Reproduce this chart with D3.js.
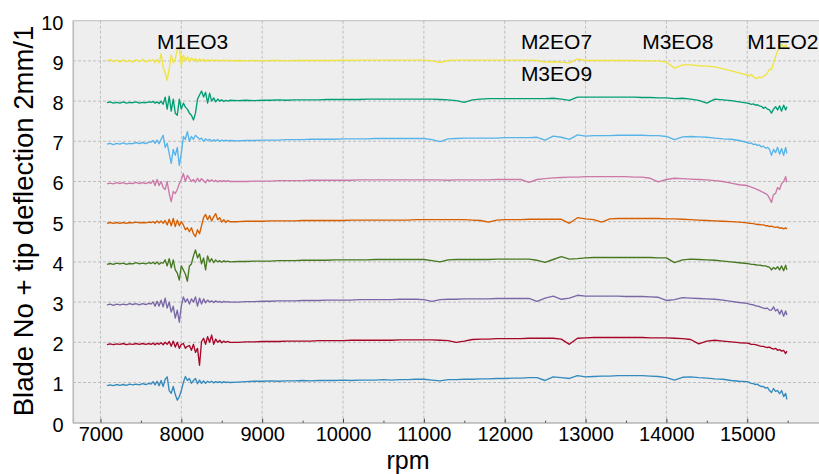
<!DOCTYPE html>
<html lang="en">

<head>
    <meta charset="UTF-8">
    <title>Blade tip deflection</title>
    <script src="https://d3js.org/d3.v7.min.js"></script>
    <style>
        body { margin: 0; background: #fff; }
        text { font-family: "Liberation Sans", Arial, sans-serif; }
    </style>
</head>

<body>
    <script>
        const width = 819;
        const height = 474;

        // rpm samples (denser where the signal is noisy)
        const rpm = [
            7080, 7120, 7160, 7200, 7240, 7280, 7320, 7360, 7400, 7440, 7480, 7520, 7560, 7600,
            7625, 7650, 7675, 7700, 7725, 7750, 7775, 7800, 7825, 7850,
            7875, 7900, 7925, 7950, 7975, 8000, 8025, 8050, 8075, 8100,
            8125, 8150, 8175, 8200, 8225, 8250, 8275, 8300, 8325, 8350,
            8375, 8400, 8425, 8450, 8475, 8500, 8525, 8550, 8575, 8600,
            8700, 8800, 8900, 9000, 9100, 9200, 9300, 9400, 9500, 9600,
            9700, 9800, 9900, 10000, 10100, 10200, 10300, 10400, 10500, 10600,
            10700, 10800, 10900, 11000, 11100, 11200, 11300, 11400, 11500, 11600,
            11700, 11800, 11900, 12000, 12100, 12200, 12300, 12400, 12500, 12600,
            12700, 12800, 12900, 13000, 13100, 13200, 13300, 13400, 13500, 13600,
            13700, 13800, 13900, 14000, 14100, 14200, 14300, 14400, 14500, 14600,
            14700, 14800, 14900,
            15000, 15025, 15050, 15075, 15100, 15125, 15150, 15175, 15200, 15225,
            15250, 15275, 15300, 15325, 15350, 15375, 15400, 15425, 15450, 15475, 15490
        ];

        // tip deflection of each blade, in units of 2 mm (offset by blade number when drawn)
        const blade1 = [
            -0.08, -0.06, -0.08, -0.05, -0.07, -0.05, -0.07, -0.04, -0.06, -0.04, -0.06, -0.03, -0.05, -0.02,
            -0.04, 0.02, -0.06, 0.03, -0.08, 0.05, -0.1, 0.08, 0.14, -0.2,
            -0.27, -0.1, -0.3, -0.44, -0.35, -0.2, 0.0, 0.15, 0.05, 0.1,
            -0.02, 0.05, 0.1, -0.03, 0.06, -0.02, 0.04, -0.02, 0.03, 0.0,
            0.03, -0.01, 0.02, 0.0, 0.02, -0.01, 0.02, 0.0, 0.01, 0.0,
            0.01, 0.02, 0.03, 0.03, 0.04, 0.03, 0.04, 0.04, 0.05, 0.04,
            0.05, 0.05, 0.05, 0.06, 0.05, 0.06, 0.06, 0.06, 0.07, 0.06,
            0.07, 0.07, 0.08, 0.08, 0.06, 0.04, 0.07, 0.07, 0.08, 0.08,
            0.09, 0.09, 0.1, 0.1, 0.11, 0.11, 0.12, 0.12, 0.05, 0.14,
            0.12, 0.1, 0.17, 0.14, 0.15, 0.16, 0.16, 0.17, 0.17, 0.17,
            0.17, 0.16, 0.15, 0.12, 0.06, 0.13, 0.14, 0.12, 0.11, 0.09,
            0.08, 0.05, 0.03,
            0.02, 0.0, -0.02, -0.03, -0.05, -0.04, -0.08, -0.1, -0.1, -0.14,
            -0.12, -0.2, -0.25, -0.15, -0.22, -0.2, -0.28, -0.2, -0.35, -0.27, -0.42
        ];
        const blade2 = [
            -0.06, -0.04, -0.06, -0.04, -0.05, -0.03, -0.06, -0.04, -0.05, -0.03, -0.05, -0.03, -0.05, -0.03,
            -0.05, -0.02, -0.06, -0.02, -0.05, -0.01, -0.06, 0.0, -0.05, 0.02,
            -0.1, 0.03, -0.12, 0.0, -0.15, -0.05, -0.03, -0.15, -0.1, -0.08,
            -0.2, -0.05, -0.25, -0.15, -0.57, 0.02, 0.1, -0.05, 0.14, 0.0,
            0.18, -0.05, 0.08, 0.0, 0.05, -0.01, 0.03, 0.0, 0.02, 0.0,
            0.0, 0.01, 0.01, 0.02, 0.02, 0.02, 0.03, 0.03, 0.03, 0.03,
            0.04, 0.04, 0.04, 0.04, 0.05, 0.05, 0.05, 0.05, 0.05, 0.05,
            0.06, 0.06, 0.06, 0.06, 0.06, 0.05, 0.04, 0.0, 0.03, 0.07,
            0.08, 0.08, 0.09, 0.09, 0.09, 0.09, 0.1, 0.1, 0.1, 0.1,
            0.08, -0.05, 0.1, 0.11, 0.12, 0.12, 0.12, 0.12, 0.12, 0.12,
            0.12, 0.11, 0.11, 0.11, 0.1, 0.09, 0.07, -0.04, 0.03, 0.05,
            0.03, 0.01, -0.01,
            -0.02, -0.03, -0.05, -0.05, -0.06, -0.07, -0.09, -0.1, -0.1, -0.12,
            -0.13, -0.12, -0.15, -0.17, -0.15, -0.2, -0.18, -0.22, -0.2, -0.28, -0.22
        ];
        const blade3 = [
            -0.07, -0.05, -0.08, -0.05, -0.07, -0.05, -0.07, -0.04, -0.06, -0.04, -0.07, -0.04, -0.06, -0.03,
            -0.05, 0.0, -0.1, 0.02, -0.1, 0.05, -0.12, 0.1, -0.15, 0.0,
            -0.25, -0.1, -0.4, -0.2, -0.5, -0.1, 0.13, 0.0, 0.08, -0.05,
            0.08, 0.0, 0.13, -0.1, 0.1, -0.05, 0.08, -0.02, 0.05, 0.0,
            0.03, -0.01, 0.03, 0.0, 0.02, -0.01, 0.02, 0.0, 0.01, 0.0,
            0.0, 0.01, 0.01, 0.02, 0.02, 0.03, 0.03, 0.03, 0.04, 0.04,
            0.04, 0.05, 0.05, 0.05, 0.05, 0.06, 0.06, 0.06, 0.06, 0.06,
            0.07, 0.07, 0.07, 0.06, 0.02, 0.06, 0.07, 0.07, 0.08, 0.08,
            0.08, 0.08, 0.09, 0.09, 0.09, 0.09, 0.09, 0.02, 0.1, 0.15,
            0.07, 0.1, 0.17, 0.15, 0.15, 0.15, 0.15, 0.15, 0.14, 0.14,
            0.14, 0.13, 0.12, 0.04, 0.06, 0.11, 0.1, 0.09, 0.08, 0.07,
            0.05, 0.02, -0.01,
            -0.03, -0.05, -0.06, -0.07, -0.09, -0.1, -0.11, -0.13, -0.15, -0.16,
            -0.15, -0.2, -0.2, -0.12, -0.22, -0.18, -0.3, -0.2, -0.35, -0.22, -0.32
        ];
        const blade4 = [
            -0.06, -0.04, -0.06, -0.03, -0.05, -0.03, -0.06, -0.04, -0.05, -0.02, -0.05, -0.03, -0.05, -0.02,
            -0.04, -0.01, -0.05, 0.0, -0.06, -0.02, -0.03, 0.05, -0.1, 0.08,
            -0.15, 0.05, -0.2, -0.28, -0.45, -0.1, -0.2, -0.3, -0.48, -0.1,
            -0.05, 0.15, 0.3, 0.1, 0.2, -0.05, 0.1, -0.2, 0.15, 0.0,
            0.08, -0.02, 0.05, 0.0, 0.03, -0.01, 0.03, 0.0, 0.02, 0.0,
            0.01, 0.01, 0.02, 0.02, 0.02, 0.03, 0.03, 0.03, 0.04, 0.04,
            0.04, 0.04, 0.05, 0.05, 0.05, 0.05, 0.05, 0.06, 0.06, 0.06,
            0.06, 0.06, 0.06, 0.06, 0.03, 0.0, 0.05, 0.06, 0.06, 0.06,
            0.06, 0.06, 0.07, 0.07, 0.07, 0.07, 0.07, 0.04, -0.01, 0.06,
            0.13, 0.07, 0.08, 0.1, 0.11, 0.11, 0.11, 0.11, 0.11, 0.11,
            0.11, 0.11, 0.1, 0.1, -0.02, 0.05, 0.07, 0.06, 0.05, 0.04,
            0.02, 0.0, -0.02,
            -0.04, -0.05, -0.06, -0.06, -0.07, -0.08, -0.08, -0.09, -0.1, -0.1,
            -0.12, -0.13, -0.2, -0.14, -0.18, -0.12, -0.2, -0.1, -0.22, -0.08, -0.2
        ];
        const blade5 = [
            -0.04, -0.02, -0.04, -0.02, -0.04, -0.02, -0.04, -0.02, -0.03, -0.01, -0.03, -0.02, -0.03, -0.01,
            -0.02, 0.0, -0.04, 0.02, -0.03, 0.02, -0.04, 0.03, -0.08, 0.06,
            -0.1, 0.08, -0.12, 0.04, -0.1, 0.0, -0.08, -0.2, -0.15, -0.25,
            -0.15, -0.3, -0.37, -0.2, -0.3, -0.1, 0.1, 0.18, 0.05, 0.15,
            0.02, 0.12, 0.2, 0.05, 0.1, -0.01, 0.05, -0.02, 0.03, 0.0,
            0.0, 0.01, 0.01, 0.01, 0.02, 0.02, 0.02, 0.02, 0.03, 0.03,
            0.03, 0.03, 0.03, 0.03, 0.04, 0.04, 0.04, 0.04, 0.04, 0.04,
            0.04, 0.04, 0.05, 0.05, 0.05, 0.05, 0.05, 0.05, 0.05, 0.04,
            0.03, -0.01, 0.04, 0.05, 0.05, 0.05, 0.06, 0.06, 0.06, 0.06,
            0.06, -0.04, 0.1, 0.07, 0.05, -0.01, 0.07, 0.08, 0.08, 0.08,
            0.08, 0.08, 0.08, 0.07, 0.07, 0.06, 0.05, 0.04, 0.03, 0.02,
            0.01, 0.0, -0.01,
            -0.03, -0.04, -0.04, -0.05, -0.06, -0.07, -0.07, -0.08, -0.08, -0.1,
            -0.1, -0.12, -0.11, -0.13, -0.14, -0.13, -0.16, -0.15, -0.18, -0.15, -0.18
        ];
        const blade6 = [
            -0.06, -0.04, -0.06, -0.03, -0.05, -0.03, -0.06, -0.04, -0.05, -0.02, -0.05, -0.03, -0.05, -0.02,
            -0.05, 0.03, -0.1, 0.05, -0.1, 0.0, -0.15, -0.2, 0.0, -0.3,
            -0.5, -0.25, -0.3, -0.2, -0.05, 0.05, 0.2, 0.0, 0.15, 0.08,
            0.0, 0.05, -0.02, 0.08, 0.0, 0.07, 0.02, -0.03, 0.05, 0.0,
            0.04, 0.0, 0.03, -0.01, 0.02, 0.0, 0.02, 0.0, 0.02, 0.0,
            0.0, 0.0, 0.01, 0.01, 0.01, 0.02, 0.02, 0.02, 0.02, 0.03,
            0.03, 0.03, 0.03, 0.03, 0.03, 0.04, 0.04, 0.04, 0.04, 0.04,
            0.04, 0.04, 0.04, 0.04, 0.04, 0.04, 0.03, 0.04, 0.04, 0.04,
            0.04, 0.04, 0.05, 0.05, 0.05, 0.05, -0.02, 0.05, 0.07, 0.09,
            0.1, 0.11, 0.11, 0.12, 0.12, 0.12, 0.12, 0.12, 0.12, 0.11,
            0.11, 0.08, -0.01, 0.05, 0.08, 0.07, 0.06, 0.05, 0.04, 0.02,
            0.0, -0.04, -0.08,
            -0.1, -0.12, -0.14, -0.16, -0.18, -0.2, -0.22, -0.25, -0.27, -0.3,
            -0.33, -0.42, -0.52, -0.32, -0.3, -0.15, -0.2, -0.05, 0.0, 0.12, -0.02
        ];
        const blade7 = [
            -0.07, -0.05, -0.08, -0.05, -0.07, -0.04, -0.07, -0.05, -0.06, -0.03, -0.06, -0.03, -0.06, -0.02,
            -0.02, 0.02, -0.05, 0.03, -0.06, 0.05, 0.15, -0.15, -0.05, -0.3,
            -0.55, -0.2, -0.35, -0.15, -0.6, -0.3, 0.12, 0.05, 0.24, 0.0,
            0.12, 0.05, 0.15, 0.1, 0.05, 0.08, 0.0, 0.06, 0.02, 0.05,
            0.0, 0.04, 0.01, 0.04, 0.0, 0.03, 0.01, 0.03, 0.01, 0.02,
            0.01, 0.02, 0.02, 0.03, 0.03, 0.03, 0.04, 0.04, 0.04, 0.05,
            0.05, 0.05, 0.05, 0.06, 0.06, 0.06, 0.06, 0.07, 0.07, 0.07,
            0.07, 0.07, 0.07, 0.07, 0.04, -0.01, 0.06, 0.07, 0.08, 0.08,
            0.08, 0.08, 0.08, 0.09, 0.09, 0.09, 0.09, 0.1, 0.03, 0.13,
            0.1, 0.05, 0.16, 0.13, 0.14, 0.14, 0.14, 0.15, 0.15, 0.15,
            0.15, 0.14, 0.14, 0.12, 0.04, 0.11, 0.12, 0.11, 0.1, 0.08,
            0.06, 0.05, 0.02,
            -0.03, -0.05, -0.04, -0.08, -0.07, -0.1, -0.09, -0.14, -0.12, -0.17,
            -0.15, -0.2, -0.35, -0.2, -0.28, -0.15, -0.32, -0.18, -0.35, -0.15, -0.3
        ];
        const blade8 = [
            -0.04, -0.02, -0.05, -0.03, -0.05, -0.02, -0.05, -0.03, -0.04, -0.02, -0.05, -0.03, -0.04, -0.02,
            -0.03, -0.01, -0.05, -0.02, -0.06, 0.0, -0.08, 0.1, -0.2, 0.12,
            -0.25, 0.05, -0.3, -0.35, 0.05, -0.2, -0.05, -0.15, -0.2, -0.3,
            -0.35, -0.47, -0.3, 0.05, 0.15, 0.25, 0.1, 0.22, -0.05, 0.2,
            0.0, 0.08, -0.02, 0.05, 0.0, 0.03, -0.01, 0.02, 0.0, 0.02,
            0.01, 0.02, 0.01, 0.02, 0.02, 0.03, 0.02, 0.03, 0.03, 0.03,
            0.03, 0.04, 0.04, 0.04, 0.04, 0.04, 0.05, 0.05, 0.05, 0.05,
            0.05, 0.05, 0.05, 0.05, 0.05, 0.04, 0.03, 0.01, -0.03, 0.03,
            0.05, 0.06, 0.06, 0.06, 0.06, 0.06, 0.06, 0.06, 0.06, 0.07,
            0.05, 0.02, 0.1, 0.1, 0.1, 0.1, 0.1, 0.1, 0.1, 0.1,
            0.09, 0.09, 0.08, 0.08, 0.06, 0.07, 0.05, 0.02, -0.05, 0.05,
            0.03, 0.01, -0.02,
            -0.05, -0.06, -0.08, -0.07, -0.1, -0.09, -0.12, -0.13, -0.18, -0.15,
            -0.2, -0.22, -0.3, -0.2, -0.14, -0.22, -0.12, -0.25, -0.1, -0.22, -0.14
        ];
        const blade9 = [
            0.0, 0.03, -0.02, 0.02, -0.03, 0.03, -0.02, 0.02, -0.03, 0.03, -0.02, 0.04, -0.03, 0.02,
            0.0, 0.03, -0.04, 0.04, -0.05, 0.18, -0.15, -0.3, -0.48, -0.2,
            0.15, -0.05, 0.05, 0.28, 0.35, -0.12, 0.15, 0.0, 0.1, -0.02,
            0.08, 0.0, 0.06, -0.03, 0.05, 0.0, 0.04, -0.02, 0.03, 0.0,
            0.03, -0.01, 0.03, 0.0, 0.02, 0.0, 0.02, 0.0, 0.02, 0.0,
            0.01, 0.0, 0.01, 0.0, 0.01, 0.01, 0.0, 0.01, 0.01, 0.01,
            0.01, 0.01, 0.01, 0.02, 0.01, 0.02, 0.02, 0.02, 0.02, 0.02,
            0.02, 0.02, 0.02, 0.02, 0.0, -0.04, 0.01, 0.02, 0.02, 0.02,
            0.02, 0.02, 0.02, 0.02, 0.02, 0.02, 0.02, 0.01, -0.03, -0.02,
            -0.03, -0.05, 0.05, 0.01, 0.01, 0.01, 0.01, 0.01, 0.01, 0.01,
            0.0, 0.0, 0.0, -0.03, -0.18, -0.1, -0.1, -0.12, -0.13, -0.15,
            -0.2, -0.25, -0.3,
            -0.35, -0.38, -0.33, -0.4, -0.42, -0.44, -0.4, -0.42, -0.38, -0.35,
            -0.3, -0.2, -0.22, -0.05, 0.1, 0.25, 0.3, 0.42, 0.35, 0.4, 0.33
        ];

        const blades = [blade1, blade2, blade3, blade4, blade5, blade6, blade7, blade8, blade9];
        const bladeColors = ["#348ABD", "#A60628", "#7A68A6", "#467821", "#D55E00",
            "#CC79A7", "#56B4E9", "#009E73", "#F0E442"];

        const xTicks = [7000, 8000, 9000, 10000, 11000, 12000, 13000, 14000, 15000];
        const xMinorTicks = [7500, 8500, 9500, 10500, 11500, 12500, 13500, 14500, 15500];
        const yTicks = [0, 1, 2, 3, 4, 5, 6, 7, 8, 9, 10];

        const modeLabels = ["M1EO3", "M2EO7", "M3EO9", "M3EO8", "M1EO2"];
        const modeRpm = [7700, 12200, 12200, 13700, 15000];
        const modeLevel = [9.3, 9.3, 8.5, 9.3, 9.3];

        const margin = { top: 20.7, left: 73, bottom: 422.7 };

        const svg = d3.select("body").append("svg")
            .attr("width", width)
            .attr("height", height);

        const x = d3.scaleLinear()
            .domain([6660, 15890])
            .range([margin.left, 819.2]);

        const y = d3.scaleLinear()
            .domain([0, 10])
            .range([margin.bottom, margin.top]);

        // plot background
        svg.append("rect")
            .attr("x", margin.left)
            .attr("y", margin.top)
            .attr("width", width - margin.left + 2)
            .attr("height", margin.bottom - margin.top)
            .attr("fill", "#eeeeee")
            .attr("stroke", "#bcbcbc")
            .attr("stroke-width", 1);

        // grid
        svg.append("g")
            .selectAll("line")
            .data(xTicks)
            .join("line")
            .attr("x1", d => x(d)).attr("x2", d => x(d))
            .attr("y1", margin.top).attr("y2", margin.bottom)
            .attr("stroke", "#b2b2b2")
            .attr("stroke-width", 0.8)
            .attr("stroke-dasharray", "3,2");

        svg.append("g")
            .selectAll("line")
            .data(yTicks.slice(1, -1))
            .join("line")
            .attr("x1", margin.left).attr("x2", width)
            .attr("y1", d => y(d)).attr("y2", d => y(d))
            .attr("stroke", "#b2b2b2")
            .attr("stroke-width", 0.8)
            .attr("stroke-dasharray", "3,2");

        // axes
        const xAxis = svg.append("g")
            .attr("transform", `translate(0,${margin.bottom})`)
            .call(d3.axisBottom(x).tickValues(xTicks).tickSize(-4).tickPadding(4).tickFormat(d3.format("d")));

        svg.append("g")
            .attr("transform", `translate(0,${margin.bottom})`)
            .call(d3.axisBottom(x).tickValues(xMinorTicks).tickSize(-2).tickFormat(""))
            .call(g => g.select(".domain").remove());

        const yAxis = svg.append("g")
            .attr("transform", `translate(${margin.left},0)`)
            .call(d3.axisLeft(y).tickValues(yTicks).tickSize(0).tickPadding(9.5).tickFormat(d3.format("d")));

        svg.selectAll(".domain").attr("stroke", "#bcbcbc").attr("stroke-width", 1.2);
        svg.selectAll(".tick line").attr("stroke", "#444");
        xAxis.selectAll("text").attr("font-size", 20).attr("fill", "#000");
        yAxis.selectAll("text").attr("font-size", 20).attr("fill", "#000").attr("dy", "0.42em");
        svg.selectAll("g").attr("font-family", null);

        // blade traces
        const line = d3.line()
            .x(d => x(d[0]))
            .y(d => y(d[1]));

        svg.append("g")
            .selectAll("path")
            .data(blades)
            .join("path")
            .attr("d", (dev, i) => line(rpm.map((r, j) => [r, i + 1 + dev[j]])))
            .attr("fill", "none")
            .attr("stroke", (d, i) => bladeColors[i])
            .attr("stroke-width", 1.35)
            .attr("stroke-linejoin", "round");

        // mode annotations
        svg.append("g")
            .selectAll("text")
            .data(modeLabels)
            .join("text")
            .attr("x", (d, i) => x(modeRpm[i]))
            .attr("y", (d, i) => y(modeLevel[i]))
            .attr("font-size", 21)
            .attr("fill", "#000")
            .text(d => d);

        // axis titles
        svg.append("text")
            .attr("x", 408)
            .attr("y", 468.5)
            .attr("text-anchor", "middle")
            .attr("font-size", 25)
            .text("rpm");

        svg.append("text")
            .attr("transform", "translate(33,221) rotate(-90)")
            .attr("text-anchor", "middle")
            .attr("font-size", 27.5)
            .text("Blade No + tip deflection 2mm/1");
    </script>
</body>

</html>
